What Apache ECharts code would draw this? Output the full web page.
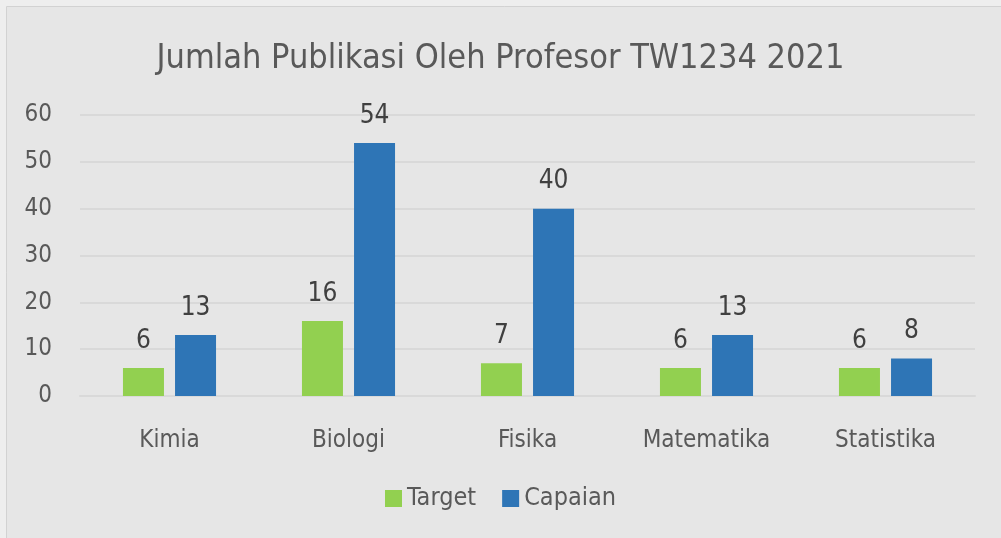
<!DOCTYPE html>
<html><head><meta charset="utf-8">
<script src="https://cdn.jsdelivr.net/npm/echarts@6/dist/echarts.min.js"></script>
<style>html,body{margin:0;padding:0;background:#eeeeee;}#c{width:1001px;height:538px;}</style>
</head><body><div id="c"></div>
<script>
const categories = ['Kimia', 'Biologi', 'Fisika', 'Matematika', 'Statistika'];
const target = [6, 16, 7, 6, 6];
const capaian = [13, 54, 40, 13, 8];
const yTicks = [0, 10, 20, 30, 40, 50, 60];
const FONT = '"Liberation Sans Narrow", "DejaVu Sans Condensed", sans-serif';
const chart = echarts.init(document.getElementById('c'));
chart.setOption({
  backgroundColor: '#eeeeee',
  animation: false,
  graphic: [{
    type: 'rect', silent: true, z: -10,
    shape: { x: 6.5, y: 6.5, width: 1000, height: 540 },
    style: { fill: '#e6e6e6', stroke: '#d2d2d2', lineWidth: 1 }
  }],
  title: {
    text: 'Jumlah Publikasi Oleh Profesor TW1234 2021',
    left: 'center', top: 37,
    textStyle: { fontFamily: FONT, fontSize: 34, fontWeight: 'normal', color: '#595959' }
  },
  legend: {
    bottom: 22, left: 'center',
    itemWidth: 17, itemHeight: 17, itemGap: 26,
    icon: 'rect',
    textStyle: { fontFamily: FONT, fontSize: 25, color: '#595959' },
    data: ['Target', 'Capaian']
  },
  grid: { left: 80, right: 26, top: 115, bottom: 142 },
  xAxis: {
    type: 'category', data: categories,
    axisLine: { lineStyle: { color: '#d9d9d9', width: 2 } },
    axisTick: { show: false },
    axisLabel: { fontFamily: FONT, fontSize: 24, color: '#595959', margin: 33 }
  },
  yAxis: {
    type: 'value', min: yTicks[0], max: yTicks[yTicks.length - 1], interval: 10,
    axisLine: { show: false }, axisTick: { show: false },
    splitLine: { lineStyle: { color: '#d9d9d9', width: 2 } },
    axisLabel: { fontFamily: FONT, fontSize: 24, color: '#595959', margin: 28 }
  },
  series: [
    { name: 'Target', type: 'bar', data: target, barGap: '27%', barCategoryGap: '48%',
      itemStyle: { color: '#92d050' },
      label: { show: true, position: 'top', distance: 14, fontFamily: FONT, fontSize: 26, color: '#404040' } },
    { name: 'Capaian', type: 'bar', data: capaian,
      itemStyle: { color: '#2e75b6' },
      label: { show: true, position: 'top', distance: 14, fontFamily: FONT, fontSize: 26, color: '#404040' } }
  ]
});
</script>
</body></html>
